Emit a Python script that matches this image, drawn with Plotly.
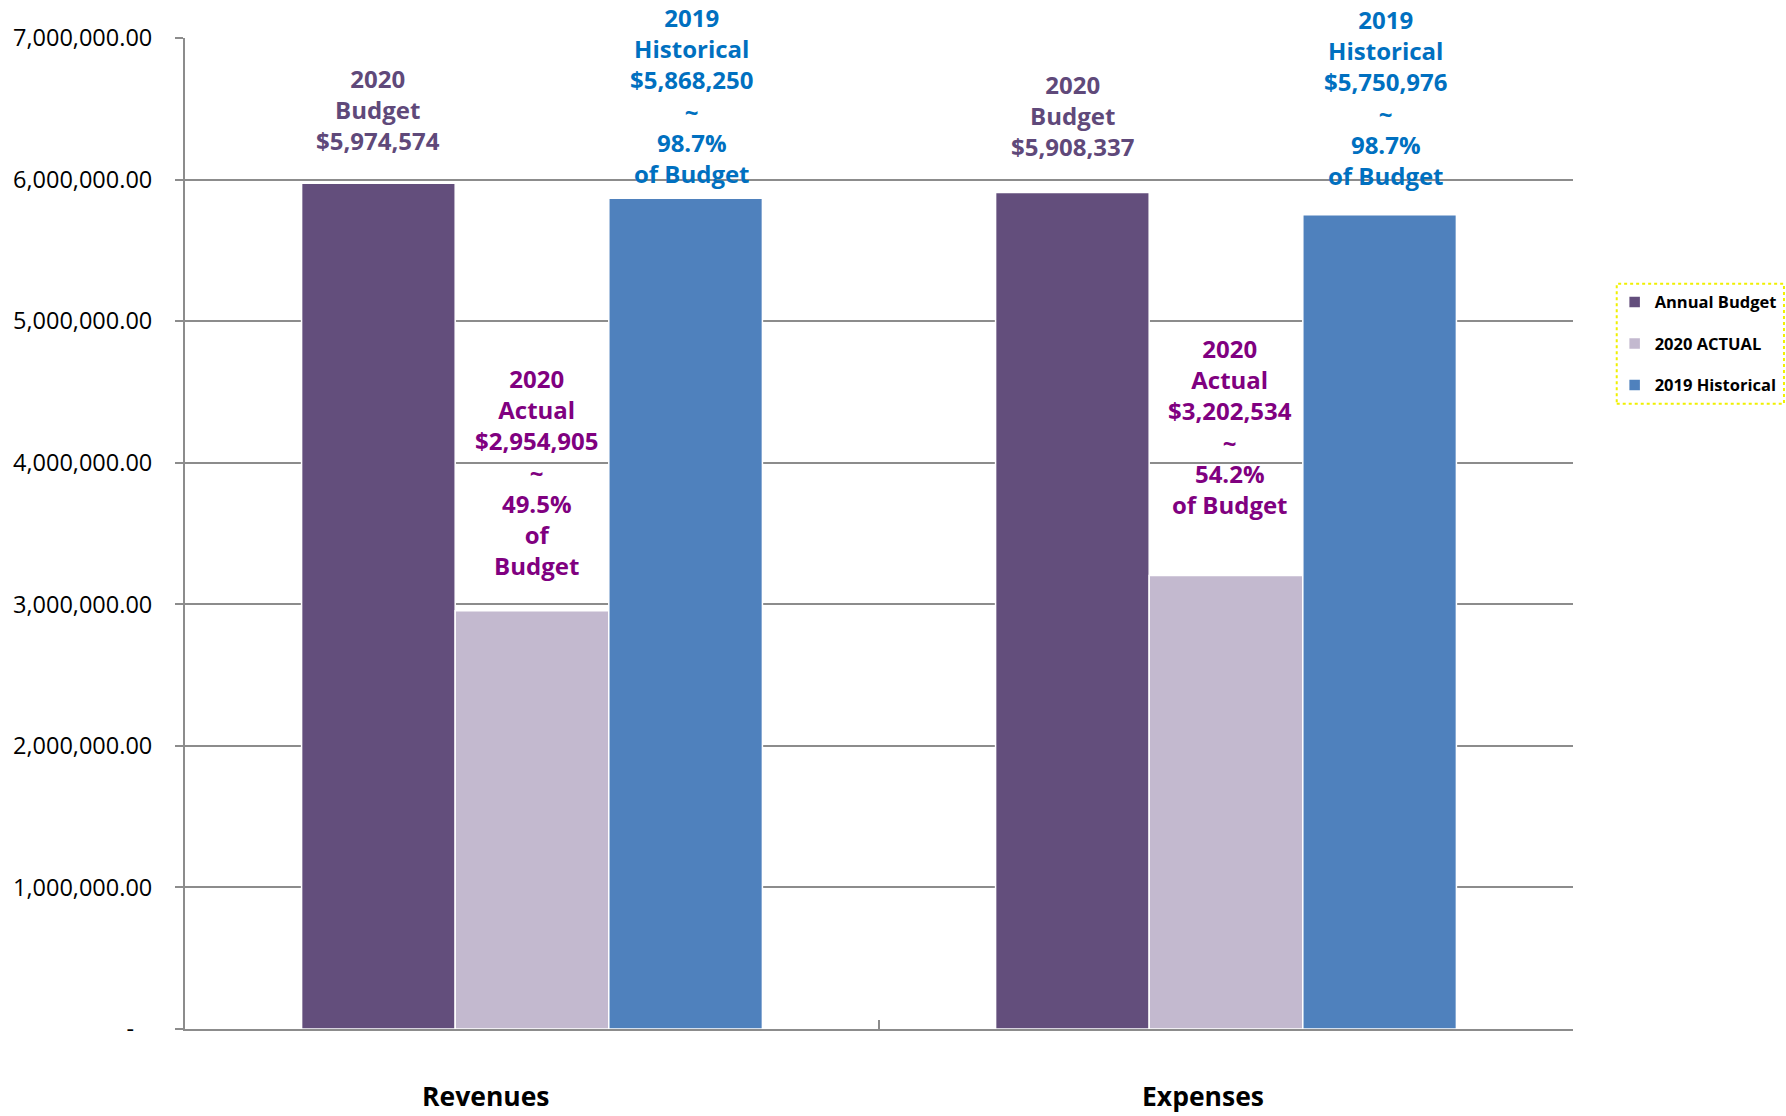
import plotly.graph_objects as go

categories = ["Revenues", "Expenses"]
series_names = ["Annual Budget", "2020 ACTUAL", "2019 Historical"]
annual_budget = [5974574, 5908337]
actual_2020 = [2954905, 3202534]
historical_2019 = [5868250, 5750976]
actual_pct = ["49.5%", "54.2%"]
historical_pct = ["98.7%", "98.7%"]
y_tickvals = [0, 1000000, 2000000, 3000000, 4000000, 5000000, 6000000, 7000000]
y_ticktext = ["-\u00a0\u00a0\u00a0", "1,000,000.00", "2,000,000.00", "3,000,000.00",
              "4,000,000.00", "5,000,000.00", "6,000,000.00", "7,000,000.00"]

bar_colors = ["#634e7c", "#c3b9cf", "#4f81bd"]
label_colors = ["#5f497a", "#800080", "#0070c0"]
BARGAP = 0.336
GRID = "#8c8c8c"

fig = go.Figure()
for name, vals, col in zip(series_names, [annual_budget, actual_2020, historical_2019], bar_colors):
    fig.add_trace(go.Bar(
        name=name, x=categories, y=vals, marker=dict(color=col, line=dict(color="white", width=1.5)),
        legendgroup=name,
    ))

w = (1 - BARGAP) / 3
# vertical offsets (px) of the label boxes above each bar, [series][category]
label_shift = [[24, 28], [27, 53], [6, 21]]
label_xshift = [0, 4, 6]
actual_tail = ["of<br>Budget", "of Budget"]

for i in range(len(categories)):
    texts = [
        f"2020<br>Budget<br>${annual_budget[i]:,}",
        f"2020<br>Actual<br>${actual_2020[i]:,}<br>~<br>{actual_pct[i]}<br>{actual_tail[i]}",
        f"2019<br>Historical<br>${historical_2019[i]:,}<br>~<br>{historical_pct[i]}<br>of Budget",
    ]
    vals = [annual_budget[i], actual_2020[i], historical_2019[i]]
    for j in range(3):
        fig.add_annotation(
            x=i + (j - 1) * w, y=vals[j], xref="x", yref="y",
            text=texts[j], showarrow=False, yanchor="bottom", xanchor="center",
            yshift=label_shift[j][i], xshift=label_xshift[j], align="center",
            font=dict(family="Open Sans", size=24, color=label_colors[j], weight="bold"),
        )

# category labels (offset left of the category centre, as in the original)
cat_xshift = [-46, -23]
for i, cat in enumerate(categories):
    fig.add_annotation(
        x=i, y=0, xref="x", yref="y", text=cat, showarrow=False,
        xanchor="center", yanchor="middle", yshift=-67, xshift=cat_xshift[i],
        font=dict(family="Open Sans", size=26.5, color="black", weight="bold"),
    )

fig.update_layout(
    width=1786, height=1116,
    margin=dict(l=185, r=213, t=38, b=87, autoexpand=False),
    plot_bgcolor="white", paper_bgcolor="white",
    barmode="group", bargap=BARGAP, bargroupgap=0,
    font=dict(family="Open Sans", color="black"),
    legend=dict(
        x=1.030, y=0.751, xanchor="left", yanchor="top",
        traceorder="grouped", tracegroupgap=17, itemwidth=30,
        font=dict(family="Open Sans", size=16.5, color="black", weight="bold"),
        bgcolor="rgba(0,0,0,0)", itemclick=False,
    ),
    showlegend=True,
)
fig.add_shape(type="rect", xref="paper", yref="paper",
              x0=1.0315, x1=1.152, y0=0.631, y1=0.752,
              line=dict(color="#f0f000", width=2, dash="dot"), layer="below")

fig.update_yaxes(
    range=[0, 7000000], tickvals=y_tickvals, ticktext=y_ticktext,
    showgrid=True, gridcolor=GRID, gridwidth=2,
    showline=True, linecolor=GRID, linewidth=2,
    ticks="outside", ticklen=8, tickcolor=GRID, tickwidth=2,
    ticklabelstandoff=18,
    tickfont=dict(family="Open Sans", size=23.5, color="black"),
    zeroline=False,
)
fig.update_xaxes(
    showline=True, linecolor=GRID, linewidth=2,
    ticks="inside", tickson="boundaries", ticklen=9, tickcolor=GRID, tickwidth=2,
    showticklabels=False,
)

fig.write_html("out.html")
